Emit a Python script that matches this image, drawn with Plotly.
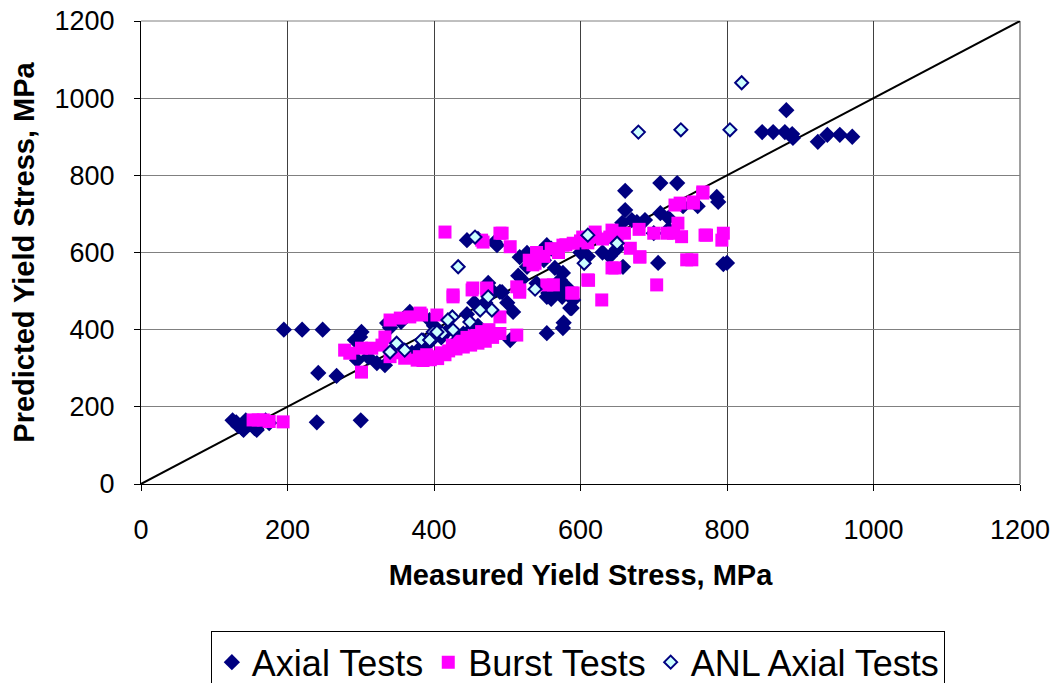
import plotly.graph_objects as go

# Axial Tests (measured, predicted)
axial_x = [125,130,133,138,143,148,155,160,165,170,140,158,175,
           240,300,195,220,248,242,267,
           292,301,299,295,310,322,333,336,340,367,355,394,380,370,390,400,410,420,430,440,450,460,445,455,470,
           474,480,490,493,500,508,504,445,483,486,460,
           515,517,527,527,535,545,554,550,560,565,576,572,581,575,590,588,554,556,554,576,560,570,520,540,
           600,610,622,630,640,650,657,661,661,670,688,677,709,732,709,720,706,658,586,577,786,788,800,795,
           740,760,700,720,
           848,863,879,881,889,890,924,937,954,971]
axial_y = [165,160,150,145,165,155,145,150,160,165,140,140,158,
           160,165,400,400,400,288,280,
           373,394,381,321,329,313,308,417,405,446,420,425,350,340,360,410,380,400,370,390,400,410,440,470,470,
           521,500,498,497,470,446,373,632,627,619,635,
           540,588,563,599,575,601,619,580,610,560,547,529,511,485,477,456,485,495,391,404,480,500,530,520,
           600,590,640,600,590,610,677,760,710,684,684,679,780,780,702,690,573,563,456,418,744,731,573,570,
           720,720,650,660,
           912,912,912,969,907,897,887,905,905,900]

# Burst Tests
burst_x = [153,160,167,175,194,
           278,285,301,315,329,333,301,340,354,367,383,377,394,360,350,340,
           380,390,400,410,420,430,440,450,460,470,480,385,395,405,415,425,435,445,455,465,475,490,
           404,381,426,426,452,453,472,472,490,513,513,517,517,504,493,490,465,467,415,538,535,554,563,
           576,590,603,620,643,668,681,643,704,629,610,590,588,611,647,681,745,752,738,718,727,770,772,
           795,793,733,729,736,754,754,767,767,
           540,560,580,600,620,640,660,680,700,530,550,570,610,630,650]
burst_y = [166,166,166,162,161,
           347,339,352,352,360,381,290,425,430,433,438,321,326,326,340,330,
           330,335,330,340,345,350,355,360,365,370,380,320,322,325,335,360,370,380,385,395,400,390,
           438,443,485,490,503,508,503,508,433,386,511,497,503,615,650,650,632,627,653,572,568,516,516,
           619,624,640,653,658,611,588,560,516,477,529,495,495,528,560,589,581,581,641,650,650,645,645,
           650,632,676,723,728,731,728,757,754,
           600,610,620,630,640,640,650,660,650,580,590,600,625,635,645]

# ANL Axial Tests
anl_x = [820,679,737,804,
         456,433,538,474,479,463,449,425,419,426,411,399,397,385,349,360,340,383,394,404,
         610,650,605]
anl_y = [1040,912,918,918,
         640,563,505,485,451,451,420,433,425,399,391,394,373,373,365,347,342,373,373,394,
         645,624,572]

line_x = [0, 1200]
line_y = [0, 1200]
tick_vals = [0, 200, 400, 600, 800, 1000, 1200]

FONT = "Arial, Liberation Sans, sans-serif"

fig = go.Figure()
fig.add_trace(go.Scatter(x=line_x, y=line_y, mode="lines",
                         line=dict(color="black", width=2), showlegend=False,
                         hoverinfo="skip"))
fig.add_trace(go.Scatter(x=axial_x, y=axial_y, mode="markers", name="Axial Tests",
                         marker=dict(symbol="diamond", size=12.5, color="#000080",
                                     line=dict(width=0))))
fig.add_trace(go.Scatter(x=burst_x, y=burst_y, mode="markers", name="Burst Tests",
                         marker=dict(symbol="square", size=13, color="#FF00FF",
                                     line=dict(width=0))))
fig.add_trace(go.Scatter(x=anl_x, y=anl_y, mode="markers", name="ANL Axial Tests",
                         marker=dict(symbol="diamond", size=10, color="#CCFFFF",
                                     line=dict(width=2, color="#000080"))))

# plot-area edge gridlines (top = 1200 horizontal, right = 1200 vertical)
fig.add_shape(type="line", xref="paper", yref="paper", x0=0, x1=1, y0=1, y1=1,
              line=dict(color="#808080", width=1), layer="below")
fig.add_shape(type="line", xref="paper", yref="paper", x0=1, x1=1, y0=0, y1=1,
              line=dict(color="#404040", width=1), layer="below")

fig.update_layout(
    width=1055, height=683,
    margin=dict(l=141, r=35, t=21, b=199, autoexpand=False),
    paper_bgcolor="white", plot_bgcolor="white",
    font=dict(family=FONT, color="black", size=27),
    showlegend=True,
    legend=dict(orientation="h", x=0.497, xanchor="center", y=-0.318, yanchor="top",
                bordercolor="black", borderwidth=1, font=dict(size=36, family=FONT),
                bgcolor="white", itemwidth=30),
)
fig.update_xaxes(range=[0, 1200], tickvals=tick_vals,
                 showgrid=True, gridcolor="#404040", gridwidth=1,
                 showline=True, linecolor="black", linewidth=1,
                 ticks="outside", ticklen=6, tickcolor="black",
                 ticklabelstandoff=16, ticklabeloverflow="allow",
                 zeroline=False, tickfont=dict(size=27),
                 title=dict(text="<b>Measured Yield Stress, MPa</b>", font=dict(size=29), standoff=20))
fig.update_yaxes(range=[0, 1200], tickvals=tick_vals,
                 showgrid=True, gridcolor="#808080", gridwidth=1,
                 showline=True, linecolor="black", linewidth=1,
                 ticks="outside", ticklen=6, tickcolor="black",
                 ticklabelstandoff=14, ticklabeloverflow="allow",
                 zeroline=False, tickfont=dict(size=27),
                 title=dict(text="<b>Predicted Yield Stress, MPa</b>", font=dict(size=29), standoff=11))

fig.write_html("out.html", config={"displayModeBar": False},
               post_script="document.body.style.margin='0';document.body.style.overflow='hidden';")
